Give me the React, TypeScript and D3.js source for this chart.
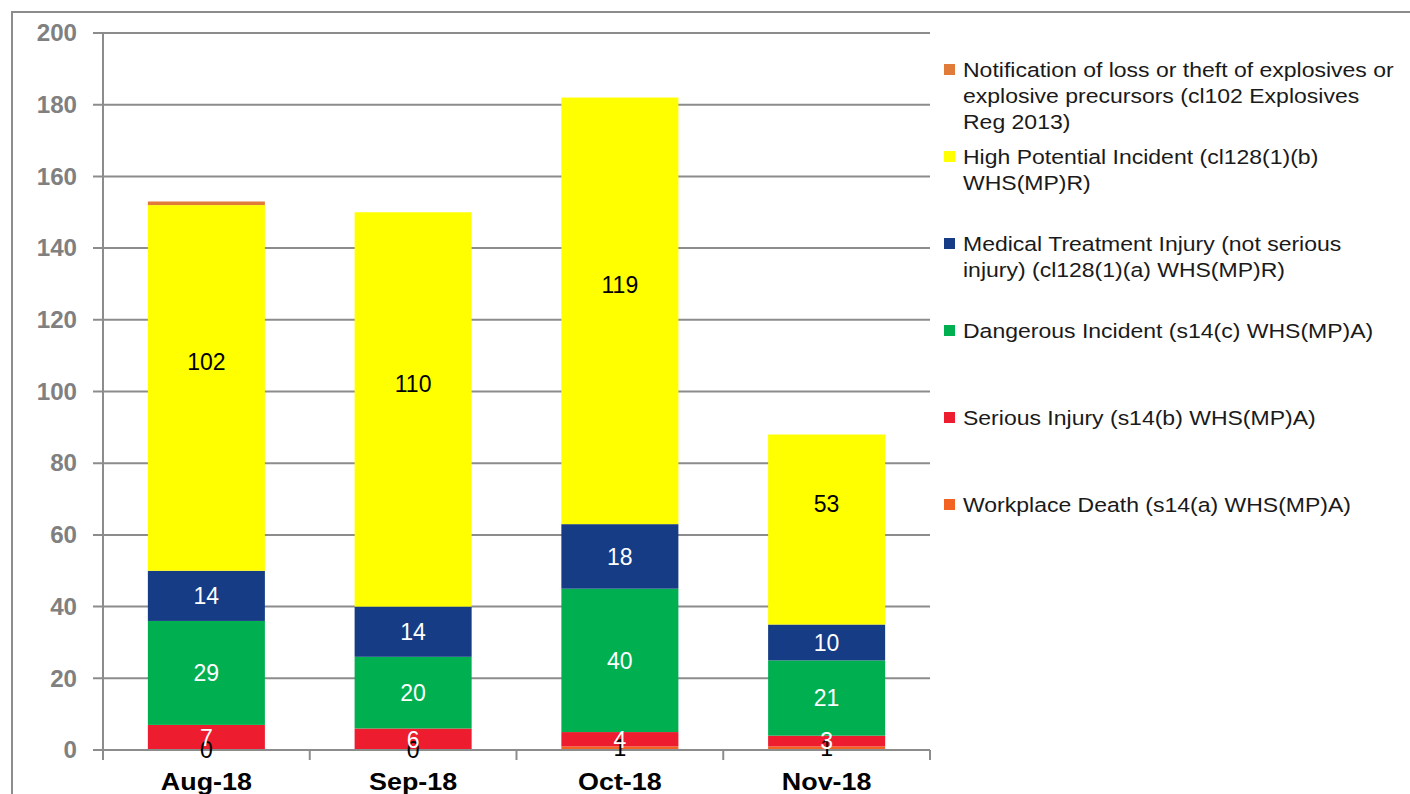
import React from 'react';
import * as d3 from 'd3';

const months = ['Aug-18', 'Sep-18', 'Oct-18', 'Nov-18'];
const workplaceDeath = [0, 0, 1, 1];
const seriousInjury = [7, 6, 4, 3];
const dangerousIncident = [29, 20, 40, 21];
const medicalTreatment = [14, 14, 18, 10];
const highPotential = [102, 110, 119, 53];
const lossOrTheft = [1, 0, 0, 0];
const yTicks = [0, 20, 40, 60, 80, 100, 120, 140, 160, 180, 200];

const seriesList = [
  { key: 'death', name: ['Workplace Death (s14(a) WHS(MP)A)'], values: workplaceDeath, color: '#F26322', label: '#000', showLabel: true, lift: 0 },
  { key: 'serious', name: ['Serious Injury (s14(b) WHS(MP)A)'], values: seriousInjury, color: '#ED1C2E', label: '#fff', showLabel: true, lift: 0 },
  { key: 'dangerous', name: ['Dangerous Incident (s14(c) WHS(MP)A)'], values: dangerousIncident, color: '#00B050', label: '#fff', showLabel: true, lift: 0 },
  { key: 'mti', name: ['Medical Treatment Injury (not serious', 'injury) (cl128(1)(a) WHS(MP)R)'], values: medicalTreatment, color: '#153C85', label: '#fff', showLabel: true, lift: 0 },
  { key: 'hpi', name: ['High Potential Incident (cl128(1)(b)', 'WHS(MP)R)'], values: highPotential, color: '#FFFF00', label: '#000', showLabel: true, lift: 26 },
  { key: 'loss', name: ['Notification of loss or theft of explosives or', 'explosive precursors (cl102 Explosives', 'Reg 2013)'], values: lossOrTheft, color: '#E07B39', label: '#000', showLabel: false, lift: 0 },
];

// legend rows, top to bottom, with first-line baseline y
const legendRows = [
  { key: 'loss', y: 77 },
  { key: 'hpi', y: 164 },
  { key: 'mti', y: 251 },
  { key: 'dangerous', y: 338 },
  { key: 'serious', y: 425 },
  { key: 'death', y: 512 },
];

// text slightly stretched horizontally, like the original export
const Wide: React.FC<{ x: number; y: number; sx: number; anchor?: string; children: React.ReactNode; [k: string]: any }> =
  ({ x, y, sx, anchor, children, ...rest }) => (
    <g transform={`translate(${x},${y}) scale(${sx},1)`}>
      <text x={0} y={0} textAnchor={anchor || 'start'} {...rest}>{children}</text>
    </g>
  );

const App: React.FC = () => {
  const width = 1410;
  const height = 794;
  const left = 103;
  const right = 930;
  const top = 33;
  const bottom = 750;

  const x = d3.scaleBand<string>().domain(months).range([left, right]).paddingInner(0.434).paddingOuter(0.217);
  const y = d3.scaleLinear().domain([0, 200]).range([bottom, top]);

  const rows = months.map((m, i) => {
    const r: Record<string, number | string> = { month: m };
    seriesList.forEach(s => { r[s.key] = s.values[i]; });
    return r;
  });
  const stack = d3.stack<Record<string, number | string>>().keys(seriesList.map(s => s.key));
  const stacked = stack(rows as any);

  const grid = '#8C8C8C';
  const font = 'Arial, "Liberation Sans", sans-serif';
  const catEdges = [...months.map(m => x(m)! - x.step() * x.paddingInner() / 2), right];

  return (
    <svg width={width} height={height} style={{ position: 'absolute', left: 0, top: 0 }} fontFamily={font}>
      <rect x={12} y={12} width={1420} height={800} fill="#fff" stroke="#8C8C8C" strokeWidth={2} />
      {yTicks.map(t => (
        <g key={t}>
          <line x1={93} x2={right} y1={y(t)} y2={y(t)} stroke={grid} strokeWidth={2} />
          <Wide x={77} y={y(t)} sx={1.05} anchor="end" dy="0.36em" fontSize={23} fontWeight="bold" fill="#808080">{t}</Wide>
        </g>
      ))}
      <line x1={left} x2={left} y1={top} y2={bottom + 10} stroke={grid} strokeWidth={2} />
      {catEdges.map((e, i) => (
        <line key={i} x1={e} x2={e} y1={bottom} y2={bottom + 10} stroke={grid} strokeWidth={2} />
      ))}
      {stacked.map((layer, li) => {
        const s = seriesList[li];
        return (
          <g key={s.key}>
            {layer.map((d, i) => (
              <rect key={i} x={x(months[i])} width={x.bandwidth()} y={y(d[1])} height={y(d[0]) - y(d[1])} fill={s.color} />
            ))}
          </g>
        );
      })}
      <line x1={left} x2={right} y1={bottom} y2={bottom} stroke={grid} strokeWidth={2} />
      {stacked.map((layer, li) => {
        const s = seriesList[li];
        if (!s.showLabel) return null;
        return (
          <g key={s.key + '-lbl'}>
            {layer.map((d, i) => (
              <text key={i} x={x(months[i])! + x.bandwidth() / 2} y={y((d[0] + d[1]) / 2) - s.lift} dy="0.36em"
                textAnchor="middle" fontSize={23} fill={s.label}>{s.values[i]}</text>
            ))}
          </g>
        );
      })}
      {months.map(m => (
        <Wide key={m} x={x(m)! + x.bandwidth() / 2} y={790} sx={1.12} anchor="middle" fontSize={24} fontWeight="bold" fill="#000">{m}</Wide>
      ))}
      {legendRows.map(r => {
        const s = seriesList.find(q => q.key === r.key)!;
        return (
          <g key={r.key}>
            <rect x={944} y={r.y - 13} width={11} height={11} fill={s.color} />
            {s.name.map((line, k) => (
              <Wide key={k} x={963} y={r.y + k * 26} sx={1.18} fontSize={19.5} fill="#1a1a1a">{line}</Wide>
            ))}
          </g>
        );
      })}
    </svg>
  );
};

export default App;
